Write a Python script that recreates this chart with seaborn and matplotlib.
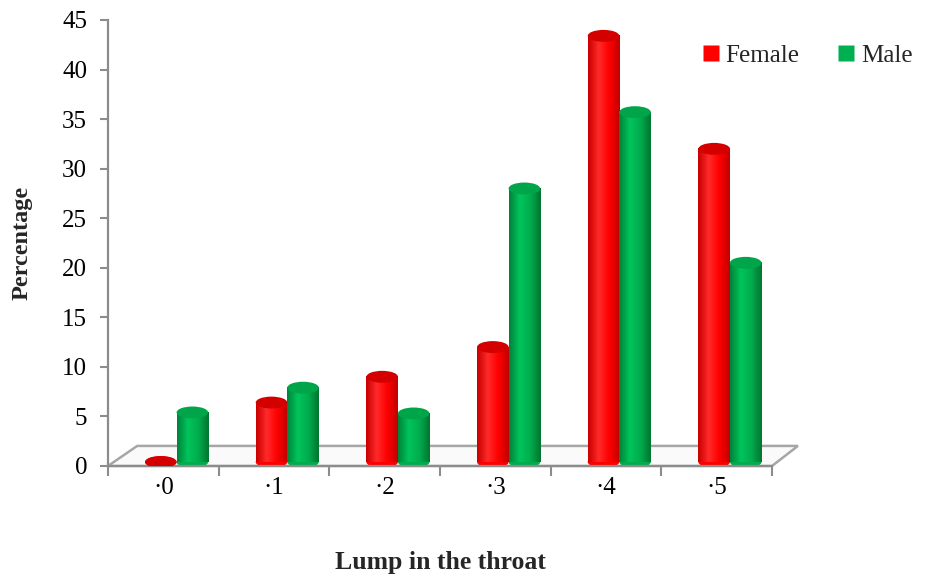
import numpy as np
import pandas as pd
import matplotlib
matplotlib.use("Agg")
import matplotlib.pyplot as plt
import seaborn as sns
from matplotlib.colors import LinearSegmentedColormap
from matplotlib.patches import Ellipse, Polygon
from matplotlib.lines import Line2D

categories = ["·0", "·1", "·2", "·3", "·4", "·5"]
female = [0, 6.4, 9.0, 12.0, 43.4, 32.0]
male = [5.4, 7.9, 5.3, 28.0, 35.7, 20.5]
series = ["Female", "Male"]
colors = {"Female": "#ff0000", "Male": "#00b050"}

df = pd.DataFrame({
    "category": categories * 2,
    "value": female + male,
    "sex": ["Female"] * len(female) + ["Male"] * len(male),
})

sns.set_style("white")
plt.rcParams["font.family"] = ["Liberation Serif", "DejaVu Serif"]

fig = plt.figure(figsize=(9.26, 5.76), dpi=100)
ax = fig.add_axes([0.1166, 0.191, 0.7171, 0.7743])

# floor of the fake 3d chart
floor = Polygon([[0, 0], [1, 0], [1.039, 0.045], [0.044, 0.045]], closed=True,
                transform=ax.transAxes, facecolor="#fafafa", edgecolor="#a6a6a6",
                lw=1.8, zorder=1, clip_on=False)
ax.add_patch(floor)

sns.barplot(data=df, x="category", y="value", hue="sex", order=categories,
            hue_order=series, palette=colors, width=0.57, saturation=1,
            errorbar=None, legend=False, ax=ax)

# cylinder look: gradient body + elliptic caps
shades = {
    "Female": ["#c80000", "#ff2a2a", "#ff0000", "#c00000"],
    "Male": ["#008238", "#00c45c", "#00ad4e", "#00762f"],
}
cap_color = {"Female": "#d40000", "Male": "#00a54a"}
depth_shift = 0.12
cap = 1.2
base = 0.4
grad = np.linspace(0, 1, 64).reshape(1, -1)
for sex, container in zip(series, ax.containers):
    cmap = LinearSegmentedColormap.from_list(sex, shades[sex])
    for bar in container:
        bar.set_x(bar.get_x() + depth_shift)
        x0, w, h = bar.get_x(), bar.get_width(), bar.get_height()
        bar.set_facecolor("none")
        bar.set_edgecolor("none")
        ax.add_patch(Ellipse((x0 + w / 2, base), w, cap, facecolor=shades[sex][2],
                             edgecolor="none", zorder=2))
        if h > 0:
            ax.imshow(grad, extent=[x0, x0 + w, base, h], aspect="auto", cmap=cmap,
                      zorder=3, interpolation="bicubic")
        ax.add_patch(Ellipse((x0 + w / 2, max(h, base)), w, cap,
                             facecolor=cap_color[sex], edgecolor="none", zorder=4))

ax.set_xlim(-0.5, len(categories) - 0.5)
ax.set_ylim(0, 45)
ax.set_yticks(range(0, 50, 5))
ax.set_xticks(range(len(categories)))
ax.set_xticklabels(categories)
ax.set_xticks(np.arange(-0.5, len(categories), 1), minor=True)

for s in ["top", "right"]:
    ax.spines[s].set_visible(False)
for s in ["left", "bottom"]:
    ax.spines[s].set_color("#8c8c8c")
    ax.spines[s].set_linewidth(1.6)

ax.tick_params(axis="y", left=True, length=6, width=1.5, color="#8c8c8c",
               labelsize=18, pad=9, labelcolor="black")
ax.tick_params(axis="x", which="major", bottom=True, length=0, pad=8,
               labelsize=18, labelcolor="black")
ax.tick_params(axis="x", which="minor", bottom=True, length=7, width=1.5,
               color="#8c8c8c")

ax.set_xlabel("Lump in the throat", fontsize=18.5, fontweight="bold")
ax.set_ylabel("Percentage", fontsize=17.5, fontweight="bold")
ax.xaxis.set_label_coords(0.5, -0.19)
ax.yaxis.set_label_coords(-0.113, 0.5)

handles = [Line2D([], [], marker="s", linestyle="none", markersize=11,
                  markerfacecolor=colors[s], markeredgecolor="none") for s in series]
fig.legend(handles, series, loc="center left", bbox_to_anchor=(0.758, 0.904),
           ncol=2, frameon=False, fontsize=18, handlelength=0.7,
           handletextpad=0.25, columnspacing=1.5, borderpad=0, borderaxespad=0)

fig.savefig("out.png", dpi=100)
